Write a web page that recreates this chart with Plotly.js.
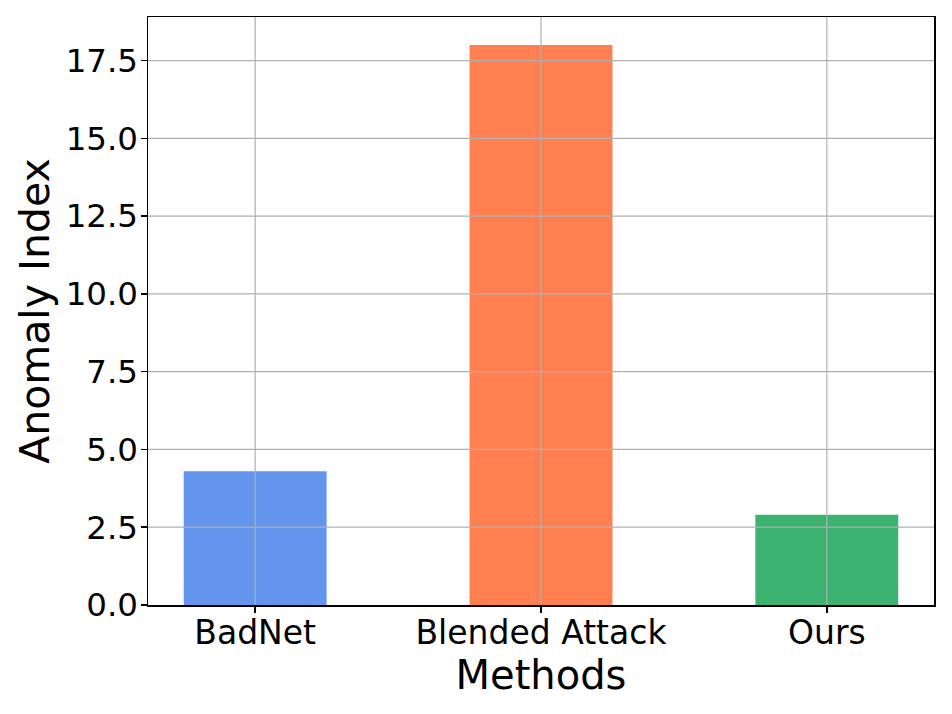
<!DOCTYPE html>
<html>
<head>
<meta charset="utf-8">
<script src="https://cdn.plot.ly/plotly-3.0.1.min.js"></script>
<style>html,body{margin:0;padding:0;background:#fff;}#chart{width:952px;height:714px;}</style>
</head>
<body>
<div id="chart"></div>
<script>
const categories = ["BadNet", "Blended Attack", "Ours"];
const anomalyIndex = [4.3, 18.0, 2.9];
const barColors = ["#6495ED", "#FF7F50", "#3CB371"];
const yTickVals = [0, 2.5, 5, 7.5, 10, 12.5, 15, 17.5];
const yTickText = ["0.0", "2.5", "5.0", "7.5", "10.0", "12.5", "15.0", "17.5"];

const gridColor = "#b0b0b0";
const shapes = [];
categories.forEach(c => shapes.push({
  type: "line", layer: "above", xref: "x", yref: "paper",
  x0: c, x1: c, y0: 0, y1: 1,
  line: {color: gridColor, width: 1.2}
}));
yTickVals.filter(v => v > 0).forEach(v => shapes.push({
  type: "line", layer: "above", xref: "paper", yref: "y",
  x0: 0, x1: 1, y0: v, y1: v,
  line: {color: gridColor, width: 1.2}
}));

const trace = {
  type: "bar",
  x: categories,
  y: anomalyIndex,
  width: 0.5,
  marker: {color: barColors, line: {width: 0}},
  hoverinfo: "x+y"
};

const font = "DejaVu Sans, sans-serif";
const layout = {
  width: 952, height: 714,
  margin: {l: 148, r: 18, t: 17, b: 109},
  paper_bgcolor: "#fff", plot_bgcolor: "#fff",
  showlegend: false,
  font: {family: font, color: "#000"},
  shapes: shapes,
  xaxis: {
    range: [-0.375, 2.375],
    showgrid: false,
    ticks: "outside", ticklen: 6, tickwidth: 1.5, tickcolor: "#000",
    ticklabelstandoff: -8,
    tickfont: {size: 33, family: font, color: "#000"},
    showline: true, linecolor: "#000", linewidth: 1.5, mirror: true,
    title: {text: "Methods", font: {size: 40, family: font, color: "#000"}, standoff: 1},
    zeroline: false
  },
  yaxis: {
    range: [0, 18.9],
    tickvals: yTickVals, ticktext: yTickText,
    showgrid: false,
    ticks: "outside", ticklen: 6, tickwidth: 1.5, tickcolor: "#000",
    ticklabelstandoff: -4,
    tickfont: {size: 32.5, family: font, color: "#000"},
    showline: true, linecolor: "#000", linewidth: 1.5, mirror: true,
    title: {text: "Anomaly Index", font: {size: 41, family: font, color: "#000"}, standoff: 3},
    zeroline: false
  }
};

Plotly.newPlot("chart", [trace], layout, {displayModeBar: false, staticPlot: true});
</script>
</body>
</html>
